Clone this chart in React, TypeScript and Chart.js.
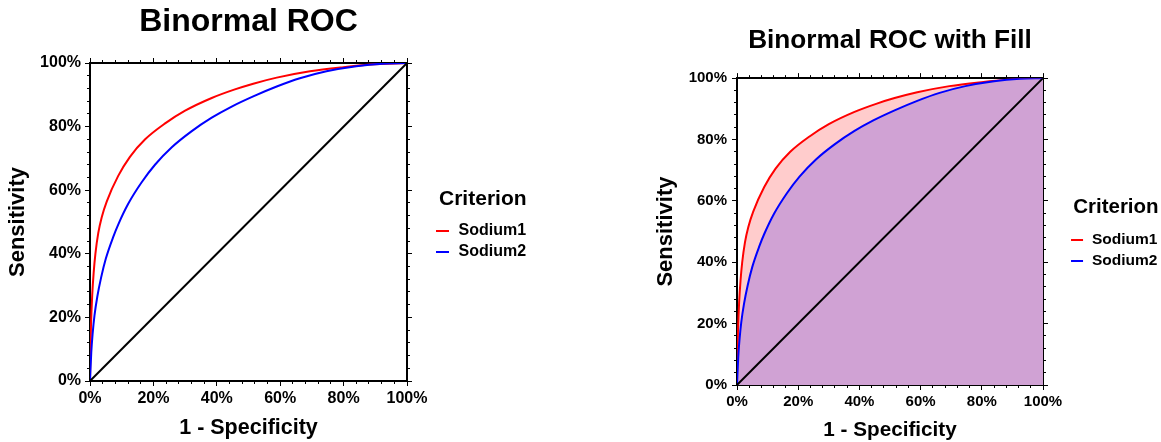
import React, { useEffect, useRef } from 'react';
import { Chart, registerables } from 'chart.js';

Chart.register(...registerables);

const FONT = '"Liberation Sans", Arial, Helvetica, sans-serif';

// ---- data (percent) ----
const seriesNames = ['Sodium1', 'Sodium2'];
const sodium1Fpr = [0, 0.1, 0.3, 0.7, 1.15, 1.7, 2.6, 3.7, 5.3, 8.9, 12.6, 17.4, 23.7, 30, 38.4, 45.7, 51.5, 58.9, 69.4, 79.9, 88.3, 100];
const sodium1Tpr = [0, 8, 17, 27, 34, 40, 46.5, 51.5, 56.5, 64.5, 70.5, 76, 81, 85, 89, 91.7, 93.5, 95.4, 97.4, 98.7, 99.5, 100];
const sodium2Fpr = [0, 0.4, 0.84, 1.4, 2.3, 3.5, 5, 7.4, 8.9, 12.1, 16.3, 20.5, 25.8, 32, 38.4, 44.7, 51.5, 58.9, 66.2, 74.6, 84, 92.4, 100];
const sodium2Tpr = [0, 9, 15, 20.5, 26.5, 32.5, 38.5, 45.5, 49.2, 55.8, 62.5, 68, 73.5, 78.5, 82.8, 86.3, 89.5, 92.6, 95.2, 97.4, 99, 99.8, 100];
const diagonalFpr = [0, 100];
const diagonalTpr = [0, 100];
const axisMin = 0;
const axisMax = 100;
const majorStep = 20;
const minorStep = 4;

const toPoints = (xs: number[], ys: number[]) => xs.map((x, i) => ({ x, y: ys[i] }));

type Spec = {
  left: number;
  width: number;
  title: string;
  titleSize: number;
  titlePad: { top: number; bottom: number };
  fill: boolean;
  pad: { left: number; top: number; right: number; bottom: number };
  tickSize: number;
  yTickPad: number;
  xTickPad: number;
  xTitleSize: number;
  yTitleSize: number;
  xTitlePadBottom: number;
  yTitlePadTop: number;
  leftW: number;
  rightW: number;
  bottomH: number;
  topH: number;
  legendTitleSize: number;
  legendTitlePad: number;
  legendFontSize: number;
  legendBoxW: number;
  legendBoxH: number;
  legendPad: number;
};

const pct = (v: any) => `${v}%`;

function axisPair(id: string, position: string, size: number, isH: boolean, tickOpts: any, titleOpts: any) {
  const fitMajor = (s: any) => {
    if (isH) s.height = size;
    else s.width = size;
  };
  const fitMinor = (s: any) => {
    if (isH) s.height = 0;
    else s.width = 0;
  };
  const major: any = {
    type: 'linear',
    position,
    axis: isH ? 'x' : 'y',
    min: axisMin,
    max: axisMax,
    weight: 1,
    grid: { display: true, drawOnChartArea: false, drawTicks: true, tickLength: 5, color: '#000', tickColor: '#000', lineWidth: 1, tickWidth: 1 },
    border: { display: true, color: '#000', width: 2 },
    ticks: { stepSize: majorStep, display: false, autoSkip: false, maxRotation: 0, color: '#000', ...(tickOpts || {}) },
    afterFit: fitMajor,
  };
  if (titleOpts) major.title = titleOpts;
  const minor = {
    type: 'linear',
    position,
    axis: isH ? 'x' : 'y',
    min: axisMin,
    max: axisMax,
    weight: 0,
    grid: { display: true, drawOnChartArea: false, drawTicks: true, tickLength: 3, color: '#000', tickColor: '#000', lineWidth: 1, tickWidth: 1 },
    border: { display: false },
    ticks: { stepSize: minorStep, display: false, autoSkip: false },
    afterFit: fitMinor,
  };
  return { [id]: major, [id + 'm']: minor };
}

function buildConfig(s: Spec): any {
  const datasets = [
    {
      label: seriesNames[0],
      data: toPoints(sodium1Fpr, sodium1Tpr),
      borderColor: '#FF0000',
      backgroundColor: s.fill ? '#FFCCCC' : '#FF0000',
      fill: s.fill ? 'origin' : false,
      borderWidth: 2,
      pointRadius: 0,
      cubicInterpolationMode: 'monotone',
      order: 3,
    },
    {
      label: seriesNames[1],
      data: toPoints(sodium2Fpr, sodium2Tpr),
      borderColor: '#0000FF',
      backgroundColor: s.fill ? '#D0A2D4' : '#0000FF',
      fill: s.fill ? 'origin' : false,
      borderWidth: 2,
      pointRadius: 0,
      cubicInterpolationMode: 'monotone',
      order: 2,
    },
    {
      label: 'Reference',
      data: toPoints(diagonalFpr, diagonalTpr),
      borderColor: '#000000',
      backgroundColor: '#000000',
      fill: false,
      borderWidth: 2,
      pointRadius: 0,
      order: 1,
    },
  ];

  const scales = {
    ...axisPair(
      'x',
      'bottom',
      s.bottomH,
      true,
      { display: true, padding: s.xTickPad, font: { family: FONT, size: s.tickSize, weight: 'bold' }, callback: pct },
      { display: true, text: '1 - Specificity', color: '#000', font: { family: FONT, size: s.xTitleSize, weight: 'bold' }, padding: { top: 0, bottom: s.xTitlePadBottom } }
    ),
    ...axisPair('xt', 'top', s.topH, true, null, null),
    ...axisPair(
      'y',
      'left',
      s.leftW,
      false,
      { display: true, padding: s.yTickPad, font: { family: FONT, size: s.tickSize, weight: 'bold' }, callback: pct },
      { display: true, text: 'Sensitivity', color: '#000', font: { family: FONT, size: s.yTitleSize, weight: 'bold' }, padding: { top: s.yTitlePadTop, bottom: 0 } }
    ),
    ...axisPair('yr', 'right', s.rightW, false, null, null),
  };

  return {
    type: 'line',
    data: { datasets },
    options: {
      responsive: false,
      animation: false,
      devicePixelRatio: 1,
      events: [],
      layout: { padding: s.pad },
      scales,
      plugins: {
        tooltip: { enabled: false },
        title: {
          display: true,
          text: s.title,
          color: '#000',
          fullSize: false,
          font: { family: FONT, size: s.titleSize, weight: 'bold' },
          padding: s.titlePad,
        },
        legend: {
          display: true,
          position: 'right',
          align: 'center',
          fullSize: true,
          maxWidth: 220,
          title: {
            display: true,
            text: 'Criterion',
            color: '#000',
            font: { family: FONT, size: s.legendTitleSize, weight: 'bold' },
            padding: s.legendTitlePad,
          },
          labels: {
            usePointStyle: true,
            pointStyle: 'line',
            boxWidth: s.legendBoxW,
            boxHeight: s.legendBoxH,
            padding: s.legendPad,
            color: '#000',
            font: { family: FONT, size: s.legendFontSize, weight: 'bold' },
            filter: (item: any) => item.datasetIndex < 2,
            sort: (a: any, b: any) => a.datasetIndex - b.datasetIndex,
          },
        },
      },
    },
  };
}

const leftSpec: Spec = {
  left: 0,
  width: 580,
  title: 'Binormal ROC',
  titleSize: 32,
  titlePad: { top: 3.3, bottom: 11.3 },
  fill: false,
  pad: { left: 0, top: 0, right: 43.93, bottom: -6.7 },
  tickSize: 16,
  yTickPad: 4,
  xTickPad: 3.4,
  xTitleSize: 21.5,
  yTitleSize: 22,
  xTitlePadBottom: 7.5,
  yTitlePadTop: 4.3,
  leftW: 90,
  rightW: 22.5,
  bottomH: 67.7,
  topH: 10,
  legendTitleSize: 21,
  legendTitlePad: 4.53,
  legendFontSize: 16,
  legendBoxW: 16,
  legendBoxH: 9.2,
  legendPad: 5,
};

const rightSpec: Spec = {
  left: 580,
  width: 581,
  title: 'Binormal ROC with Fill',
  titleSize: 26.2,
  titlePad: { top: 25.3, bottom: 11.4 },
  fill: true,
  pad: { left: 0, top: 0, right: -6.36, bottom: -24.9 },
  tickSize: 15,
  yTickPad: 5,
  xTickPad: 3,
  xTitleSize: 20.7,
  yTitleSize: 22,
  xTitlePadBottom: 24.5,
  yTitlePadTop: 72.3,
  leftW: 157,
  rightW: 21.4,
  bottomH: 81.9,
  topH: 10,
  legendTitleSize: 20.5,
  legendTitlePad: 4.77,
  legendFontSize: 15.5,
  legendBoxW: 14.25,
  legendBoxH: 8.5,
  legendPad: 5.5,
};

function RocChart({ spec }: { spec: Spec }) {
  const ref = useRef<HTMLCanvasElement>(null);
  useEffect(() => {
    if (!ref.current) return;
    const chart = new Chart(ref.current, buildConfig(spec));
    return () => chart.destroy();
  }, [spec]);
  return (
    <canvas
      ref={ref}
      width={spec.width}
      height={442}
      style={{ position: 'absolute', left: spec.left, top: 0, width: spec.width, height: 442, display: 'block' }}
    />
  );
}

export default function App() {
  return (
    <div style={{ position: 'fixed', left: 0, top: 0, width: 1161, height: 442, background: '#fff', overflow: 'hidden' }}>
      <RocChart spec={leftSpec} />
      <RocChart spec={rightSpec} />
    </div>
  );
}
